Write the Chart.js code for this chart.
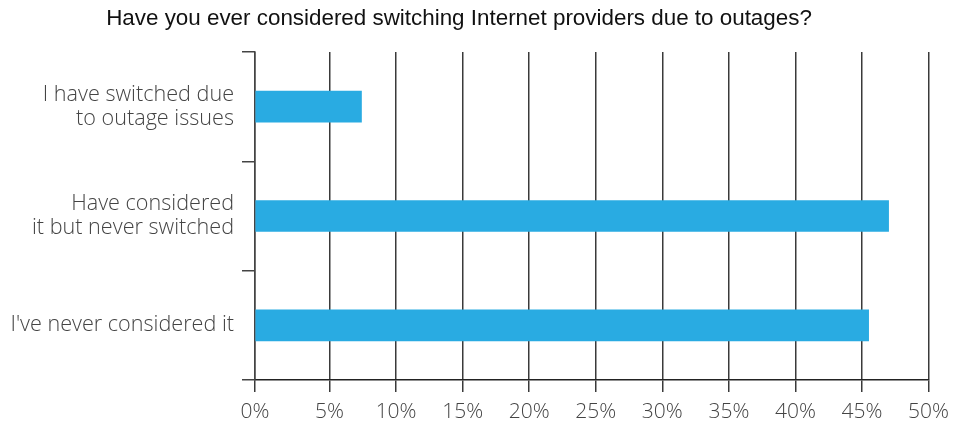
<!DOCTYPE html>
<html>
<head>
<meta charset="utf-8">
<script src="https://cdn.jsdelivr.net/npm/chart.js@4.4.0/dist/chart.umd.min.js"></script>
<style>
  html, body { margin: 0; padding: 0; background: #fff; }
  #wrap { width: 956px; height: 421px; }
</style>
</head>
<body>
<div id="wrap"><canvas id="outages"></canvas></div>
<script>
var chartTitle = 'Have you ever considered switching Internet providers due to outages?';
var categories = [
  ['I have switched due', 'to outage issues'],
  ['Have considered', 'it but never switched'],
  ["I've never considered it"]
];
var shares = [7.4, 47, 45.5];
// axis starts a touch left of zero so the 0% tick sits on the y axis line
var axisStart = -0.6;
var tickValues = [axisStart, 5, 10, 15, 20, 25, 30, 35, 40, 45, 50];
var tickLabels = ['0%', '5%', '10%', '15%', '20%', '25%', '30%', '35%', '40%', '45%', '50%'];

var fontFamily = '"Open Sans", Lato, sans-serif';

// title is drawn by hand, it sits left of centre
var titlePlugin = {
  id: 'titleText',
  afterDraw: function(chart) {
    var c = chart.ctx;
    c.save();
    c.font = '22.4px "Liberation Sans", Arial, sans-serif';
    c.fillStyle = '#111';
    c.textAlign = 'center';
    c.textBaseline = 'middle';
    c.fillText(chartTitle, 459, 19);
    c.restore();
  }
};

var ctx = document.getElementById('outages');
var myChart = new Chart(ctx, {
  type: 'bar',
  data: {
    labels: categories,
    datasets: [{
      data: shares,
      base: axisStart,
      backgroundColor: '#29abe2',
      barThickness: 31
    }]
  },
  options: {
    indexAxis: 'y',
    responsive: true,
    maintainAspectRatio: false,
    animation: false,
    layout: { padding: { top: 52, right: 26, left: 0, bottom: 0 } },
    plugins: {
      legend: { display: false },
      tooltip: { enabled: false }
    },
    scales: {
      x: {
        min: axisStart,
        max: 50,
        afterBuildTicks: function(scale) {
          scale.ticks = tickValues.map(function(v) { return { value: v }; });
        },
        afterFit: function(scale) { scale.height = 41; },
        grid: {
          color: '#3a3a3a',
          lineWidth: 1.5,
          tickLength: 12
        },
        border: { color: '#222', width: 1.5 },
        ticks: {
          padding: 7,
          color: '#444',
          font: { family: fontFamily, size: 21, weight: 300 },
          maxRotation: 0,
          callback: function(v, i) { return tickLabels[i]; }
        }
      },
      y: {
        afterFit: function(scale) { scale.width = 255; },
        grid: {
          offset: true,
          drawOnChartArea: false,
          color: '#444',
          lineWidth: 1.5,
          tickLength: 13
        },
        border: { color: '#444', width: 1.5 },
        ticks: {
          padding: 8,
          color: '#444',
          font: { family: fontFamily, size: 21.6, weight: 300, lineHeight: 1.12 }
        }
      }
    }
  },
  plugins: [titlePlugin]
});
</script>
</body>
</html>
